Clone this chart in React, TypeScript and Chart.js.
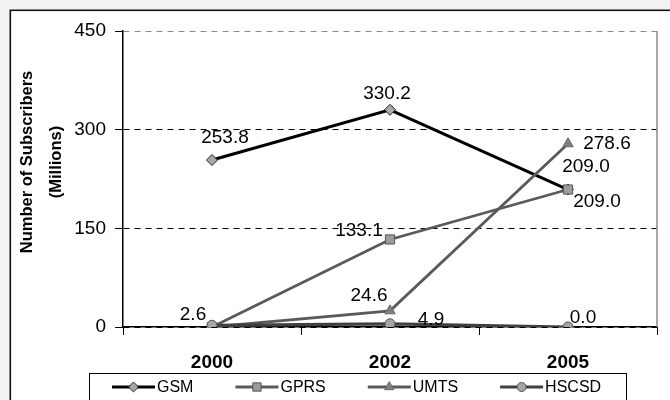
import React, { useEffect, useRef } from 'react';
import { Chart, registerables } from 'chart.js';
import { drawPoint } from 'chart.js/helpers';

Chart.register(...registerables);

// ---- data ----
const categories = ['2000', '2002', '2005'];
const seriesNames = ['GSM', 'GPRS', 'UMTS', 'HSCSD'];
const gsmValues = [253.8, 330.2, 209.0];
const gprsValues = [0, 133.1, 209.0];
const umtsValues = [0, 24.6, 278.6];
const hscsdValues = [2.6, 4.9, 0.0];
const yTickValues = [0, 150, 300, 450];
const yTitleLines = ['Number of Subscribers', '(Millions)'];

// ---- styles ----
const FONT = '"Liberation Sans", Arial, sans-serif';
const LABEL_OFFSETS: (number[] | null)[][] = [
  [[13, -22], [-3, -16], [29, 12]],
  [null, [-31, -9], [18, -23]],
  [null, [-21, -15], [39, 0]],
  [[-19, -11], [41, -4], [15, -9]],
];

const bgPlugin = {
  id: 'bgFrame',
  beforeDraw(chart: any) {
    const { ctx, width, height } = chart;
    ctx.save();
    ctx.fillStyle = '#f3f3f3';
    ctx.fillRect(0, 0, width, height);
    ctx.fillStyle = '#ffffff';
    ctx.fillRect(10, 10, width, height);
    ctx.strokeStyle = '#111';
    ctx.lineWidth = 1.6;
    ctx.strokeRect(10.3, 10.3, width + 20, height + 20);
    ctx.restore();
  },
  beforeDatasetsDraw(chart: any) {
    const { ctx, chartArea } = chart;
    ctx.save();
    ctx.strokeStyle = '#8a8a8a';
    ctx.lineWidth = 1.5;
    ctx.beginPath();
    ctx.moveTo(chartArea.right, chartArea.top);
    ctx.lineTo(chartArea.right, chartArea.bottom);
    ctx.stroke();
    // y axis title
    ctx.fillStyle = '#000';
    ctx.font = `bold 16.5px ${FONT}`;
    ctx.textAlign = 'center';
    ctx.textBaseline = 'middle';
    const xs = [27, 56];
    yTitleLines.forEach((line, i) => {
      ctx.save();
      ctx.translate(xs[i], 162);
      ctx.rotate(-Math.PI / 2);
      ctx.fillText(line, 0, 0);
      ctx.restore();
    });
    ctx.restore();
  },
};

const labelPlugin = {
  id: 'valueLabels',
  afterDatasetsDraw(chart: any) {
    const { ctx } = chart;
    ctx.save();
    ctx.fillStyle = '#000';
    ctx.font = `19px ${FONT}`;
    ctx.textAlign = 'center';
    ctx.textBaseline = 'middle';
    chart.data.datasets.forEach((ds: any, i: number) => {
      const meta = chart.getDatasetMeta(i);
      meta.data.forEach((pt: any, j: number) => {
        const off = LABEL_OFFSETS[i][j];
        if (!off) return;
        ctx.fillText(Number(ds.data[j]).toFixed(1), pt.x + off[0], pt.y + off[1]);
      });
    });
    ctx.restore();
  },
};

const legendPlugin = {
  id: 'boxLegend',
  afterDraw(chart: any) {
    const { ctx } = chart;
    ctx.save();
    ctx.strokeStyle = '#000';
    ctx.lineWidth = 1;
    ctx.strokeRect(89.5, 373.5, 537, 40);
    ctx.font = `16px ${FONT}`;
    ctx.textBaseline = 'middle';
    ctx.textAlign = 'left';
    let x = 112;
    const y = 387;
    chart.data.datasets.forEach((ds: any) => {
      ctx.strokeStyle = ds.borderColor;
      ctx.lineWidth = ds.borderWidth;
      ctx.beginPath();
      ctx.moveTo(x, y);
      ctx.lineTo(x + 43, y);
      ctx.stroke();
      ctx.fillStyle = ds.pointBackgroundColor;
      ctx.strokeStyle = ds.pointBorderColor;
      ctx.lineWidth = 1;
      drawPoint(ctx, { pointStyle: ds.pointStyle, radius: ds.pointRadius * 0.9, rotation: 0, borderWidth: 1 }, x + 21.5, y);
      ctx.fillStyle = '#000';
      ctx.fillText(ds.label, x + 45, y + 1);
      x += 45 + ctx.measureText(ds.label).width + 42;
    });
    ctx.restore();
  },
};

export default function App() {
  const canvasRef = useRef<HTMLCanvasElement | null>(null);

  useEffect(() => {
    document.body.style.margin = '0';
    const canvas = canvasRef.current;
    if (!canvas) return;
    const mk = (label: string, data: number[], line: string, fill: string, border: string, style: string, r: number, order: number, bw: number) => ({
      label,
      data,
      borderColor: line,
      borderWidth: bw,
      pointBackgroundColor: fill,
      pointBorderColor: border,
      pointBorderWidth: 1,
      pointStyle: style,
      pointRadius: r,
      pointHoverRadius: r,
      tension: 0,
      fill: false,
      order,
    });
    const chart = new Chart(canvas, {
      type: 'line',
      data: {
        labels: categories,
        datasets: [
          mk(seriesNames[0], gsmValues, '#000000', '#a8a8a8', '#222', 'rectRot', 5.5, 3, 3),
          mk(seriesNames[1], gprsValues, '#5a5a5a', '#9c9c9c', '#555', 'rect', 6.5, 2, 2.8),
          mk(seriesNames[2], umtsValues, '#5a5a5a', '#7f7f7f', '#6a6a6a', 'triangle', 6, 1, 2.8),
          mk(seriesNames[3], hscsdValues, '#404040', '#a6a6a6', '#555', 'circle', 5, 0, 3.2),
        ] as any,
      },
      options: {
        animation: false,
        responsive: false,
        maintainAspectRatio: false,
        layout: { padding: { left: 0, top: 31, right: 13, bottom: 27 } },
        plugins: {
          legend: { display: false },
          tooltip: { enabled: false },
          title: { display: false },
        },
        scales: {
          x: {
            type: 'category',
            offset: true,
            grid: {
              offset: true,
              drawOnChartArea: false,
              drawTicks: true,
              tickLength: 8,
              tickColor: '#000',
              color: '#000',
            },
            border: { display: true, color: '#000', width: 1.5 },
            ticks: {
              color: '#000',
              font: { family: FONT, size: 19, weight: 'bold' },
              padding: 16,
              maxRotation: 0,
            },
            afterFit: (s: any) => { s.height = 46; },
          },
          y: {
            type: 'linear',
            min: yTickValues[0],
            max: yTickValues[yTickValues.length - 1],
            afterBuildTicks: (s: any) => { s.ticks = yTickValues.map((v) => ({ value: v })); },
            grid: {
              color: (c: any) => (c.tick && c.tick.value === yTickValues[yTickValues.length - 1] ? '#8a8a8a' : '#000'),
              lineWidth: 1,
              tickLength: 8,
              tickColor: '#000',
            },
            border: { display: true, color: '#000', width: 1.5, dash: [6, 5] },
            ticks: {
              color: '#000',
              font: { family: FONT, size: 19 },
              padding: 9,
              callback: (v: any) => String(v),
            },
            afterFit: (s: any) => { s.width = 123; },
          },
        },
      } as any,
      plugins: [bgPlugin, labelPlugin, legendPlugin],
    });
    return () => chart.destroy();
  }, []);

  return (
    <div style={{ width: 670, height: 400, overflow: 'hidden' }}>
      <canvas ref={canvasRef} width={670} height={400} style={{ display: 'block', width: 670, height: 400 }} />
    </div>
  );
}
